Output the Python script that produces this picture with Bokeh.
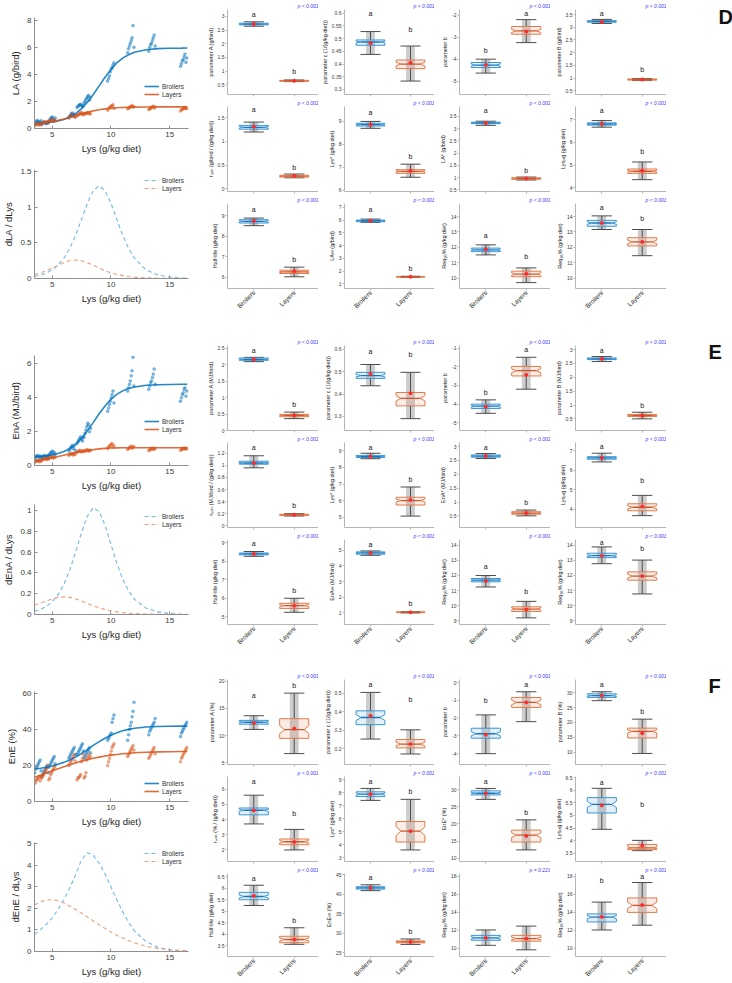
import math
from bokeh.plotting import figure
from bokeh.layouts import row, column
from bokeh.models import Range1d, FixedTicker, Legend, LegendItem, Label, Spacer
from bokeh.core.properties import value
from bokeh.embed import file_html
from bokeh.resources import INLINE

FONT = "Liberation Sans"
BLUE = "#0072BD"
ORANGE = "#D95319"
BLUE_DASH = "#72b8e2"
ORANGE_DASH = "#eba07e"
BOX_EDGE = ["#3c96d4", "#e27a4b"]
BOX_MED = ["#1d74b8", "#d0542a"]

# ---------------- dose-response data (Lys, g/kg diet) ----------------
LYS_LEVELS = [3.8, 4.4, 5.0, 6.7, 7.4, 8.0, 10.0, 11.7, 13.5, 16.2]
JITTER = [-0.28, -0.2, -0.12, -0.05, 0.03, 0.1, 0.18, 0.26]

LA_BROILERS = [
    [0.35, 0.45, 0.55, 0.6, 0.5, 0.4, 0.48, 0.58],
    [0.3, 0.38, 0.45, 0.5, 0.42, 0.35, 0.48, 0.4],
    [0.55, 0.65, 0.75, 0.8, 0.85, 0.7, 0.6, 0.78],
    [0.8, 0.9, 1.0, 1.1, 1.15, 0.95, 1.05, 0.85],
    [1.55, 1.65, 1.7, 1.75, 1.8, 1.7, 1.6, 1.72],
    [1.9, 2.0, 2.15, 2.25, 2.35, 2.45, 2.1, 2.3],
    [3.5, 3.7, 3.9, 4.2, 4.4, 4.5, 4.7, 4.85],
    [5.6, 5.9, 6.1, 6.3, 6.5, 6.7, 7.6, 6.0],
    [5.7, 6.0, 6.2, 6.3, 6.5, 6.7, 6.9, 6.1],
    [4.6, 4.8, 5.0, 5.1, 5.3, 5.5, 4.9, 5.2],
]
LA_LAYERS = [
    [0.22, 0.28, 0.32, 0.36, 0.3, 0.25, 0.34, 0.29],
    [0.38, 0.42, 0.46, 0.5, 0.44, 0.4, 0.48, 0.45],
    [0.5, 0.55, 0.6, 0.65, 0.58, 0.52, 0.62, 0.56],
    [0.8, 0.88, 0.92, 0.98, 1.02, 0.9, 0.95, 0.85],
    [0.95, 1.0, 1.05, 1.1, 1.15, 1.2, 1.02, 1.08],
    [1.05, 1.1, 1.12, 1.15, 1.18, 1.1, 1.14, 1.08],
    [1.35, 1.45, 1.55, 1.6, 1.65, 1.7, 1.75, 1.5],
    [1.45, 1.5, 1.55, 1.6, 1.65, 1.7, 1.58, 1.62],
    [1.4, 1.45, 1.5, 1.55, 1.6, 1.65, 1.52, 1.58],
    [1.3, 1.38, 1.42, 1.48, 1.52, 1.56, 1.45, 1.5],
]
ENA_BROILERS = [
    [0.45, 0.5, 0.55, 0.6, 0.52, 0.48, 0.58, 0.5],
    [0.48, 0.52, 0.55, 0.6, 0.5, 0.56, 0.53, 0.58],
    [0.6, 0.68, 0.75, 0.8, 0.85, 0.7, 0.78, 0.65],
    [0.85, 0.95, 1.05, 1.1, 1.2, 1.0, 1.15, 0.9],
    [1.3, 1.4, 1.5, 1.6, 1.7, 1.55, 1.45, 1.65],
    [1.7, 1.9, 2.1, 2.3, 2.5, 2.4, 2.0, 2.2],
    [3.2, 3.4, 3.6, 3.8, 4.0, 4.2, 4.4, 3.7],
    [4.4, 4.6, 4.8, 5.0, 5.3, 5.6, 6.4, 4.7],
    [4.5, 4.7, 4.9, 5.0, 5.2, 5.4, 5.7, 4.8],
    [3.8, 4.0, 4.2, 4.3, 4.5, 4.6, 4.1, 4.4],
]
ENA_LAYERS = [
    [0.2, 0.24, 0.28, 0.3, 0.26, 0.22, 0.29, 0.25],
    [0.32, 0.36, 0.4, 0.42, 0.38, 0.35, 0.41, 0.37],
    [0.42, 0.46, 0.5, 0.54, 0.48, 0.44, 0.52, 0.47],
    [0.6, 0.64, 0.68, 0.72, 0.66, 0.62, 0.7, 0.65],
    [0.78, 0.82, 0.86, 0.9, 0.84, 0.8, 0.88, 0.85],
    [0.82, 0.86, 0.9, 0.94, 0.88, 0.84, 0.92, 0.87],
    [1.0, 1.08, 1.15, 1.2, 1.25, 1.3, 1.1, 1.18],
    [0.95, 1.0, 1.05, 1.1, 1.15, 1.02, 1.08, 1.12],
    [0.88, 0.92, 0.96, 1.0, 1.04, 0.94, 0.98, 1.02],
    [0.9, 0.94, 0.98, 1.0, 1.04, 0.96, 1.02, 0.99],
]
ENE_BROILERS = [
    [16, 18, 19, 20, 21, 22, 23, 17],
    [14, 15, 16, 17, 18, 19, 20, 16],
    [19, 20, 21, 22, 23, 24, 25, 21],
    [24, 25, 26, 27, 28, 29, 30, 26],
    [26, 27, 28, 29, 30, 31, 32, 28],
    [24, 25, 26, 27, 28, 29, 30, 27],
    [34, 35, 36, 37, 38, 44, 46, 48],
    [34, 37, 40, 42, 44, 47, 50, 55],
    [37, 39, 40, 41, 42, 43, 44, 46],
    [36, 38, 39, 40, 41, 42, 43, 44],
]
ENE_LAYERS = [
    [10, 11, 12, 12.5, 13, 14, 11.5, 13.5],
    [13, 14, 15, 16, 17, 18, 19, 20],
    [12, 13, 15, 16, 17, 18, 19, 20],
    [20, 21, 22, 23, 24, 25, 26, 22.5],
    [12, 13, 13.5, 14, 15, 22, 24, 26],
    [13, 14, 16, 23, 24, 25, 26, 24.5],
    [20, 22, 24, 26, 28, 30, 31, 32],
    [25, 26, 27, 28, 29, 30, 31, 28.5],
    [24, 25, 26, 27, 28, 29, 30, 26.5],
    [22, 24, 25, 26, 27, 28, 29, 30],
]

# fitted responses and their slopes along Lys
FIT_LYS = [3.5, 4, 4.5, 5, 5.5, 6, 6.5, 7, 7.5, 8, 8.5, 9, 9.5, 10, 10.5, 11, 11.5, 12, 13, 14, 15, 16, 16.5]
LA_FIT_BROILERS = [0.38, 0.40, 0.43, 0.48, 0.56, 0.67, 0.85, 1.10, 1.46, 1.94, 2.51, 3.15, 3.79, 4.36, 4.84, 5.20, 5.45, 5.63, 5.82, 5.90, 5.93, 5.94, 5.95]
LA_FIT_LAYERS = [0.37, 0.41, 0.45, 0.52, 0.60, 0.70, 0.82, 0.95, 1.08, 1.20, 1.30, 1.38, 1.45, 1.49, 1.53, 1.55, 1.57, 1.58, 1.59, 1.60, 1.60, 1.60, 1.60]
LA_SLOPE_BROILERS = [0.031, 0.049, 0.077, 0.12, 0.187, 0.284, 0.423, 0.608, 0.83, 1.057, 1.234, 1.302, 1.234, 1.057, 0.83, 0.608, 0.423, 0.284, 0.12, 0.049, 0.02, 0.008, 0.005]
LA_SLOPE_LAYERS = [0.056, 0.079, 0.109, 0.145, 0.185, 0.222, 0.25, 0.26, 0.25, 0.222, 0.185, 0.145, 0.109, 0.079, 0.056, 0.04, 0.028, 0.019, 0.009, 0.004, 0.002, 0.001, 0.0]
ENA_FIT_BROILERS = [0.53, 0.55, 0.58, 0.63, 0.71, 0.83, 1.01, 1.26, 1.61, 2.05, 2.55, 3.06, 3.52, 3.91, 4.20, 4.41, 4.55, 4.64, 4.74, 4.77, 4.79, 4.80, 4.80]
ENA_FIT_LAYERS = [0.28, 0.33, 0.39, 0.46, 0.53, 0.61, 0.69, 0.76, 0.83, 0.89, 0.94, 0.98, 1.01, 1.03, 1.04, 1.05, 1.05, 1.05, 1.05, 1.05, 1.05, 1.05, 1.05]
ENA_SLOPE_BROILERS = [0.031, 0.049, 0.078, 0.123, 0.191, 0.291, 0.429, 0.603, 0.789, 0.949, 1.028, 0.993, 0.86, 0.677, 0.493, 0.341, 0.229, 0.147, 0.061, 0.025, 0.009, 0.003, 0.002]
ENA_SLOPE_LAYERS = [0.09, 0.11, 0.13, 0.15, 0.165, 0.17, 0.165, 0.15, 0.13, 0.105, 0.085, 0.065, 0.048, 0.035, 0.025, 0.018, 0.012, 0.008, 0.004, 0.002, 0.001, 0.0, 0.0]
ENE_FIT_BROILERS = [18.0, 18.45, 19.0, 19.7, 20.6, 21.7, 23.0, 24.6, 26.6, 28.8, 31.1, 33.2, 35.1, 36.8, 38.1, 39.2, 40.0, 40.6, 41.3, 41.6, 41.7, 41.8, 41.8]
ENE_FIT_LAYERS = [13.5, 14.6, 15.8, 17.0, 18.2, 19.3, 20.4, 21.4, 22.4, 23.2, 24.0, 24.6, 25.2, 25.7, 26.1, 26.5, 26.7, 27.0, 27.3, 27.5, 27.6, 27.7, 27.7]
ENE_SLOPE_BROILERS = [0.8, 1.0, 1.25, 1.55, 1.95, 2.4, 2.95, 3.55, 4.25, 4.58, 4.45, 4.1, 3.6, 3.0, 2.4, 1.85, 1.35, 0.95, 0.45, 0.2, 0.08, 0.04, 0.03]
ENE_SLOPE_LAYERS = [2.15, 2.3, 2.38, 2.4, 2.35, 2.25, 2.1, 1.95, 1.78, 1.6, 1.42, 1.24, 1.07, 0.9, 0.75, 0.62, 0.5, 0.4, 0.24, 0.14, 0.08, 0.05, 0.04]

# ---------------- parameter summaries: (low whisker, Q1, median, Q3, high whisker, mean) ----------------
GROUPS = ["Broilers", "Layers"]

YLABELS_LA = ["parameter A (g/bird)", "parameter c (1/(g/kg diet))", "parameter b", "parameter B (g/bird)",
              "rₘₐₓ (g/bird / (g/kg diet))", "Lys* (g/kg diet)", "LA* (g/bird)", "Lysₗₐg (g/kg diet)",
              "Half-life (g/kg diet)", "LA∞ (g/bird)", "Req₉₀% (g/kg diet)", "Req₉₅% (g/kg diet)"]
LIMITS_LA = [(0.15, 3.25), (0.28, 0.615), (-5.6, -1.75), (0.35, 3.7), (-0.06, 1.74), (5.95, 9.65),
             (0.43, 3.9), (3.84, 7.58), (5.46, 9.6), (0.64, 7.3), (9.35, 14.84), (9.35, 14.84)]
TICKS_LA = [[0.5, 1, 1.5, 2, 2.5, 3], [0.3, 0.35, 0.4, 0.45, 0.5, 0.55, 0.6], [-5, -4, -3, -2],
            [0.5, 1, 1.5, 2, 2.5, 3, 3.5], [0, 0.5, 1, 1.5], [6, 7, 8, 9], [0.5, 1, 1.5, 2, 2.5, 3, 3.5],
            [4, 5, 6, 7], [6, 7, 8, 9], [1, 2, 3, 4, 5, 6, 7], [10, 11, 12, 13, 14], [10, 11, 12, 13, 14]]
BROILERS_LA = [(2.64, 2.69, 2.72, 2.75, 2.80, 2.72), (0.438, 0.474, 0.487, 0.495, 0.528, 0.482),
               (-4.63, -4.38, -4.27, -4.15, -4.00, -4.26), (3.15, 3.20, 3.23, 3.26, 3.31, 3.21),
               (1.20, 1.26, 1.30, 1.34, 1.41, 1.31), (8.70, 8.80, 8.86, 8.92, 9.00, 8.86),
               (3.13, 3.20, 3.23, 3.26, 3.30, 3.23), (6.67, 6.76, 6.81, 6.86, 6.96, 6.82),
               (8.52, 8.65, 8.73, 8.81, 8.89, 8.75), (5.82, 5.87, 5.95, 6.00, 6.08, 5.95),
               (11.52, 11.73, 11.85, 11.96, 12.17, 11.88), (13.16, 13.37, 13.58, 13.75, 14.04, 13.58)]
LAYERS_LA = [(0.62, 0.635, 0.65, 0.665, 0.68, 0.65), (0.333, 0.382, 0.400, 0.416, 0.471, 0.405),
             (-3.25, -2.87, -2.72, -2.52, -2.21, -2.75), (0.90, 0.92, 0.94, 0.96, 0.98, 0.94),
             (0.23, 0.245, 0.265, 0.285, 0.31, 0.27), (6.57, 6.74, 6.83, 6.90, 7.14, 6.85),
             (0.90, 0.93, 0.96, 0.99, 1.02, 0.96), (4.36, 4.64, 4.73, 4.83, 5.14, 4.75),
             (6.03, 6.19, 6.27, 6.35, 6.50, 6.30), (1.52, 1.54, 1.56, 1.58, 1.60, 1.56),
             (9.73, 10.11, 10.28, 10.47, 10.68, 10.30), (11.47, 12.10, 12.36, 12.63, 13.16, 12.36)]
LETTERS_LA = [("a", "b"), ("a", "b"), ("b", "a"), ("a", "b"), ("a", "b"), ("a", "b"),
              ("a", "b"), ("a", "b"), ("a", "b"), ("a", "b"), ("a", "b"), ("a", "b")]
LETTER_Y_LA = [(3.06, 0.98), (0.60, 0.537), (-3.62, -1.94), (3.55, 1.33), (1.67, 0.44), (9.4, 7.46),
               (3.72, 1.3), (7.4, 5.6), (9.32, 6.86), (6.85, 2.2), (12.8, 11.4), (14.6, 13.9)]
PVALUES_LA = ["p < 0.001"] * 12

YLABELS_ENA = ["parameter A (MJ/bird)", "parameter c (1/(g/kg diet))", "parameter b", "parameter B (MJ/bird)",
               "rₘₐₓ (MJ/bird / (g/kg diet))", "Lys* (g/kg diet)", "EnA* (MJ/bird)", "Lysₗₐg (g/kg diet)",
               "Half-life (g/kg diet)", "EnA∞ (MJ/bird)", "Req₉₀% (g/kg diet)", "Req₉₅% (g/kg diet)"]
LIMITS_ENA = [(0, 2.58), (0.237, 0.617), (-5.41, -0.86), (0.08, 3.15), (-0.03, 1.38), (4.37, 9.51),
              (0.08, 3.15), (3.06, 7.43), (4.58, 9.18), (0.26, 5.69), (8.76, 14.38), (8.76, 14.38)]
TICKS_ENA = [[0, 0.5, 1, 1.5, 2, 2.5], [0.3, 0.4, 0.5, 0.6], [-5, -4, -3, -2, -1], [0.5, 1, 1.5, 2, 2.5, 3],
             [0, 0.2, 0.4, 0.6, 0.8, 1, 1.2], [5, 6, 7, 8, 9], [0.5, 1, 1.5, 2, 2.5, 3], [4, 5, 6, 7],
             [5, 6, 7, 8, 9], [1, 2, 3, 4, 5], [9, 10, 11, 12, 13, 14], [9, 10, 11, 12, 13, 14]]
BROILERS_ENA = [(2.09, 2.13, 2.16, 2.20, 2.22, 2.16), (0.437, 0.470, 0.482, 0.497, 0.532, 0.490),
                (-4.49, -4.23, -4.11, -4.00, -3.77, -4.14), (2.57, 2.64, 2.67, 2.70, 2.75, 2.67),
                (0.96, 1.02, 1.04, 1.07, 1.16, 1.04), (8.53, 8.60, 8.66, 8.73, 8.86, 8.66),
                (2.57, 2.62, 2.66, 2.70, 2.75, 2.66), (6.43, 6.57, 6.64, 6.70, 6.88, 6.64),
                (8.27, 8.35, 8.40, 8.45, 8.53, 8.40), (4.68, 4.75, 4.83, 4.90, 4.96, 4.83),
                (11.24, 11.58, 11.69, 11.80, 12.00, 11.64), (12.78, 13.18, 13.31, 13.47, 13.89, 13.31)]
LAYERS_ENA = [(0.36, 0.42, 0.46, 0.49, 0.56, 0.46), (0.290, 0.347, 0.381, 0.407, 0.497, 0.404),
              (-3.20, -2.49, -2.21, -1.98, -1.49, -2.43), (0.50, 0.59, 0.62, 0.66, 0.74, 0.62),
              (0.16, 0.17, 0.18, 0.19, 0.20, 0.18), (5.06, 5.73, 6.00, 6.20, 6.82, 6.04),
              (0.50, 0.56, 0.60, 0.65, 0.71, 0.60), (3.67, 3.92, 4.10, 4.28, 4.71, 4.14),
              (5.24, 5.45, 5.60, 5.73, 6.00, 5.60), (1.00, 1.02, 1.04, 1.06, 1.08, 1.04),
              (9.20, 9.62, 9.78, 9.93, 10.29, 9.75), (10.78, 11.69, 11.96, 12.24, 13.02, 11.96)]
LETTERS_ENA = LETTERS_LA
LETTER_Y_ENA = [(2.42, 0.78), (0.59, 0.575), (-3.36, -1.1), (2.97, 1.0), (1.29, 0.335), (9.22, 7.27),
                (2.97, 0.98), (7.2, 5.5), (8.96, 6.4), (5.4, 1.6), (12.58, 10.91), (14.15, 13.78)]
PVALUES_ENA = ["p < 0.001"] * 12

YLABELS_ENE = ["parameter A (%)", "parameter c (1/(g/kg diet))", "parameter b", "parameter B (%)",
               "rₘₐₓ (% / (g/kg diet))", "Lys* (g/kg diet)", "EnE* (%)", "Lysₗₐg (g/kg diet)",
               "Half-life (g/kg diet)", "EnE∞ (%)", "Req₉₀% (g/kg diet)", "Req₉₅% (g/kg diet)"]
LIMITS_ENE = [(4.7, 20.3), (0.114, 0.575), (-4.61, 0.17), (5.9, 34.4), (1.24, 6.83), (2.71, 9.26),
              (9.0, 33.9), (3.17, 6.55), (3.04, 6.65), (24.0, 45.3), (9.1, 18.3), (9.1, 18.3)]
TICKS_ENE = [[5, 10, 15, 20], [0.2, 0.3, 0.4, 0.5], [-4, -3, -2, -1, 0], [10, 15, 20, 25, 30], [2, 3, 4, 5, 6],
             [3, 4, 5, 6, 7, 8, 9], [10, 15, 20, 25, 30], [3.5, 4, 4.5, 5, 5.5, 6, 6.5],
             [3.5, 4, 4.5, 5, 5.5, 6, 6.5], [25, 30, 35, 40, 45], [10, 12, 14, 16, 18], [10, 12, 14, 16, 18]]
BROILERS_ENE = [(11.14, 12.10, 12.45, 12.80, 13.65, 12.30), (0.252, 0.330, 0.369, 0.405, 0.505, 0.378),
                (-4.00, -3.13, -2.88, -2.57, -1.82, -2.94), (27.3, 28.4, 29.0, 29.6, 30.3, 29.0),
                (3.71, 4.31, 4.61, 4.76, 5.60, 4.60), (7.42, 7.71, 7.90, 8.08, 8.34, 7.90),
                (27.2, 28.5, 29.0, 29.7, 30.4, 29.0), (4.45, 5.10, 5.44, 5.71, 6.08, 5.40),
                (5.26, 5.51, 5.65, 5.83, 6.14, 5.68), (40.9, 41.3, 41.6, 41.9, 42.4, 41.6),
                (10.34, 10.90, 11.16, 11.44, 12.04, 11.16), (12.04, 12.93, 13.46, 13.82, 15.13, 13.50)]
LAYERS_ENE = [(6.7, 9.5, 11.1, 13.1, 17.8, 11.3), (0.171, 0.204, 0.225, 0.249, 0.302, 0.225),
              (-2.20, -1.40, -1.12, -0.84, -0.52, -1.12), (9.6, 14.8, 17.0, 18.1, 21.1, 16.4),
              (2.00, 2.34, 2.54, 2.72, 3.35, 2.52), (3.60, 4.21, 5.05, 5.79, 7.50, 5.05),
              (12.4, 14.7, 16.7, 18.2, 21.2, 16.5), (3.60, 3.64, 3.71, 3.85, 4.01, 3.81),
              (3.57, 3.64, 3.78, 3.92, 4.29, 3.78), (27.1, 27.5, 27.75, 28.0, 28.5, 27.75),
              (9.84, 10.80, 11.09, 11.44, 12.47, 11.09), (12.57, 13.99, 14.77, 15.59, 17.30, 14.80)]
LETTERS_ENE = [("a", "b"), ("a", "b"), ("b", "a"), ("a", "b"), ("a", "b"), ("a", "b"),
               ("a", "b"), ("a", "b"), ("a", "b"), ("a", "b"), ("", ""), ("b", "a")]
LETTER_Y_ENE = [(17.3, 19.2), (0.55, 0.468), (-1.02, -0.11), (32.8, 23.7), (6.52, 4.38), (8.9, 8.08),
                (32.5, 23.4), (6.3, 5.44), (6.42, 4.61), (44.2, 30.4), (0, 0), (17.5, 17.95)]
PVALUES_ENE = ["p < 0.001"] * 10 + ["p = 0.223", "p < 0.001"]


def fmt(t):
    return f"{t:g}"


def style_axis(ax, tick_size, label_size, line_color, tick_in, tick_out, standoff, label_standoff):
    ax.axis_line_color = line_color
    ax.major_tick_line_color = line_color
    ax.minor_tick_line_color = None
    ax.major_tick_in = tick_in
    ax.major_tick_out = tick_out
    ax.major_label_text_font = FONT
    ax.major_label_text_font_size = tick_size
    ax.major_label_text_color = "#3a3a3a"
    ax.major_label_standoff = standoff
    ax.axis_label_text_font = FONT
    ax.axis_label_text_font_size = label_size
    ax.axis_label_text_font_style = "normal"
    ax.axis_label_text_color = "#262626"
    ax.axis_label_standoff = label_standoff


def curve_panel(height, top, ylim, yticks, ylabel):
    p = figure(width=202, height=height, x_range=Range1d(3.5, 16.6), y_range=Range1d(*ylim),
               min_border_left=28, min_border_right=14, min_border_top=top, min_border_bottom=30,
               output_backend="svg", toolbar_location=None)
    p.grid.visible = False
    p.outline_line_color = None
    p.xaxis.ticker = FixedTicker(ticks=[5, 10, 15])
    p.yaxis.ticker = FixedTicker(ticks=yticks)
    p.yaxis.major_label_overrides = {t: fmt(t) for t in yticks}
    p.xaxis.axis_label = "Lys (g/kg diet)"
    p.yaxis.axis_label = ylabel
    for ax in p.axis:
        style_axis(ax, "8px", "9.5px", "#8f8f8f", 3, 0, 3, 3)
    return p


def add_legend(p, renderers, loc):
    leg = Legend(items=[LegendItem(label=g, renderers=[r]) for g, r in zip(GROUPS, renderers)],
                 location=loc, margin=0, padding=1, spacing=0, label_height=8, glyph_height=8,
                 glyph_width=15, label_standoff=3, label_text_font=FONT, label_text_font_size="6.5px",
                 label_text_color="#333333", border_line_color=None, background_fill_alpha=0)
    p.add_layout(leg)


def response_panel(height, top, ylim, yticks, ylabel, broilers, layers, fit_b, fit_l, legend_loc):
    p = curve_panel(height, top, ylim, yticks, ylabel)
    for series, color in ((broilers, BLUE), (layers, ORANGE)):
        xs, ys = [], []
        for lv, vals in zip(LYS_LEVELS, series):
            for k, v in enumerate(vals):
                xs.append(lv + JITTER[k])
                ys.append(v)
        p.scatter(xs, ys, marker="circle", size=3.0, fill_color=color, fill_alpha=0.5,
                  line_color=color, line_alpha=0.45, line_width=0.5)
    rb = p.line(FIT_LYS, fit_b, line_color=BLUE, line_width=1.6, line_alpha=0.85)
    rl = p.line(FIT_LYS, fit_l, line_color=ORANGE, line_width=1.6, line_alpha=0.85)
    add_legend(p, [rb, rl], legend_loc)
    return p


def slope_panel(height, top, ylim, yticks, ylabel, slope_b, slope_l, legend_loc):
    p = curve_panel(height, top, ylim, yticks, ylabel)
    rb = p.line(FIT_LYS, slope_b, line_color=BLUE_DASH, line_width=1.1, line_dash="4 3")
    rl = p.line(FIT_LYS, slope_l, line_color=ORANGE_DASH, line_width=1.1, line_dash="4 3")
    add_legend(p, [rb, rl], legend_loc)
    return p


def box_panel(ylabel, ylim, yticks, stats, letters, letter_y, ptext, height, bottom, show_groups):
    p = figure(width=116, height=height, x_range=Range1d(0.35, 2.6), y_range=Range1d(*ylim),
               min_border_left=25, min_border_right=0, min_border_top=9, min_border_bottom=bottom,
               output_backend="svg", toolbar_location=None)
    p.grid.visible = False
    p.outline_line_color = None
    p.title.text = ptext
    p.title.align = "right"
    p.title.text_font = FONT
    p.title.text_font_size = "5px"
    p.title.text_font_style = "italic"
    p.title.text_color = "#3c3cff"
    p.title.standoff = 1
    p.title.offset = 0

    p.yaxis.ticker = FixedTicker(ticks=yticks)
    p.yaxis.major_label_overrides = {t: fmt(t) for t in yticks}
    p.yaxis.axis_label = ylabel
    p.xaxis.ticker = FixedTicker(ticks=[1, 2])
    if show_groups:
        p.xaxis.major_label_overrides = {1: GROUPS[0], 2: GROUPS[1]}
        p.xaxis.major_label_orientation = math.pi / 4
    for ax in p.axis:
        style_axis(ax, "5px", "5.5px", "#b5b5b5", 0, 2, 1, 1)
    if not show_groups:
        p.xaxis.major_label_overrides = {1: "", 2: ""}
        p.xaxis.major_label_text_font_size = "0px"
        p.xaxis.major_label_standoff = 0
    else:
        p.xaxis.major_label_text_font_size = "6.5px"
        p.xaxis.major_label_text_color = "#222222"

    half_box, half_notch, half_cap, half_band = 0.36, 0.24, 0.25, 0.11
    for i, (lo, q1, med, q3, hi, mean) in enumerate(stats):
        c = i + 1
        p.quad(left=[c - half_band], right=[c + half_band], bottom=[lo], top=[hi],
               fill_color="#9a9a9a", fill_alpha=0.5, line_color=None)
        p.segment(x0=[c, c], y0=[lo, q3], x1=[c, c], y1=[q1, hi], line_color="#4d4d4d", line_width=1)
        p.segment(x0=[c - half_cap] * 2, y0=[lo, hi], x1=[c + half_cap] * 2, y1=[lo, hi],
                  line_color="#4d4d4d", line_width=1)
        nd = 0.45 * min(med - q1, q3 - med)
        xs = [c - half_box, c + half_box, c + half_box, c + half_notch, c + half_box, c + half_box,
              c - half_box, c - half_box, c - half_notch, c - half_box]
        ys = [q1, q1, med - nd, med, med + nd, q3, q3, med + nd, med, med - nd]
        p.patch(xs, ys, fill_color=BOX_EDGE[i], fill_alpha=0.14, line_color=BOX_EDGE[i], line_width=1)
        p.segment(x0=[c - half_notch], y0=[med], x1=[c + half_notch], y1=[med],
                  line_color=BOX_MED[i], line_width=1.3)
        p.scatter([c], [mean], marker="circle", size=3, fill_color="#ff2a2a", line_color="#ff2a2a")
    lx = [c for c, t in zip([1, 2], letters) if t]
    ly = [y for y, t in zip(letter_y, letters) if t]
    lt = [t for t in letters if t]
    if lt:
        p.text(x=lx, y=ly, text=lt, text_align="center", text_baseline="middle",
               text_font=value(FONT), text_font_size="7px", text_color="#111111")
    return p


def box_column(col, sets):
    kids = []
    gaps = [18, 16, None]
    bottoms = [30, 30, 25]
    for s, (ylabels, limits, ticks, broilers, layers, letters, letter_y, pvals) in enumerate(sets):
        for r in range(3):
            k = r * 4 + col
            last = r == 2
            h = 9 + 85 + (bottoms[s] if last else 3)
            kids.append(box_panel(ylabels[k], limits[k], ticks[k], [broilers[k], layers[k]],
                                  letters[k], letter_y[k], pvals[k], h,
                                  bottoms[s] if last else 3, last))
        if gaps[s]:
            kids.append(Spacer(width=116, height=gaps[s]))
    return column(*kids)


# left column: responses and slopes
la_resp = response_panel(158, 17, (0, 8.2), [0, 2, 4, 6, 8], "LA (g/bird)",
                         LA_BROILERS, LA_LAYERS, LA_FIT_BROILERS, LA_FIT_LAYERS, (110, 30))
la_slope = slope_panel(150, 11, (0, 1.53), [0, 0.5, 1, 1.5], "dLA / dLys",
                       LA_SLOPE_BROILERS, LA_SLOPE_LAYERS, (110, 86))
ena_resp = response_panel(155, 15, (0, 6.5), [0, 2, 4, 6], "EnA (MJ/bird)",
                          ENA_BROILERS, ENA_LAYERS, ENA_FIT_BROILERS, ENA_FIT_LAYERS, (110, 32))
ena_slope = slope_panel(149, 9, (0, 1.06), [0, 0.2, 0.4, 0.6, 0.8, 1], "dEnA / dLys",
                        ENA_SLOPE_BROILERS, ENA_SLOPE_LAYERS, (110, 86))
ene_resp = response_panel(153, 13, (0, 61), [0, 20, 40, 60], "EnE (%)",
                          ENE_BROILERS, ENE_LAYERS, ENE_FIT_BROILERS, ENE_FIT_LAYERS, (110, 6))
ene_slope = slope_panel(150, 11, (0, 5.05), [0, 1, 2, 3, 4, 5], "dEnE / dLys",
                        ENE_SLOPE_BROILERS, ENE_SLOPE_LAYERS, (110, 86))
left = column(la_resp, la_slope, Spacer(width=202, height=32), ena_resp, ena_slope,
              Spacer(width=202, height=34), ene_resp, ene_slope)

SETS = [
    (YLABELS_LA, LIMITS_LA, TICKS_LA, BROILERS_LA, LAYERS_LA, LETTERS_LA, LETTER_Y_LA, PVALUES_LA),
    (YLABELS_ENA, LIMITS_ENA, TICKS_ENA, BROILERS_ENA, LAYERS_ENA, LETTERS_ENA, LETTER_Y_ENA, PVALUES_ENA),
    (YLABELS_ENE, LIMITS_ENE, TICKS_ENE, BROILERS_ENE, LAYERS_ENE, LETTERS_ENE, LETTER_Y_ENE, PVALUES_ENE),
]
box_cols = [box_column(c, SETS) for c in range(4)]

# panel tags
tags = figure(width=66, height=983, x_range=Range1d(0, 66), y_range=Range1d(983, 0),
              min_border=0, x_axis_location=None, y_axis_location=None,
              output_backend="svg", toolbar_location=None)
tags.grid.visible = False
tags.outline_line_color = None
for tag, tx, ty in (("D", 52, 5), ("E", 42, 340), ("F", 42, 674)):
    tags.add_layout(Label(x=tx, y=ty, text=tag, text_font=FONT, text_font_size="20px",
                          text_font_style="bold", text_color="#111111",
                          text_align="left", text_baseline="top"))

layout = row(left, *box_cols, tags)
open("out.html", "w").write(file_html(layout, INLINE))
